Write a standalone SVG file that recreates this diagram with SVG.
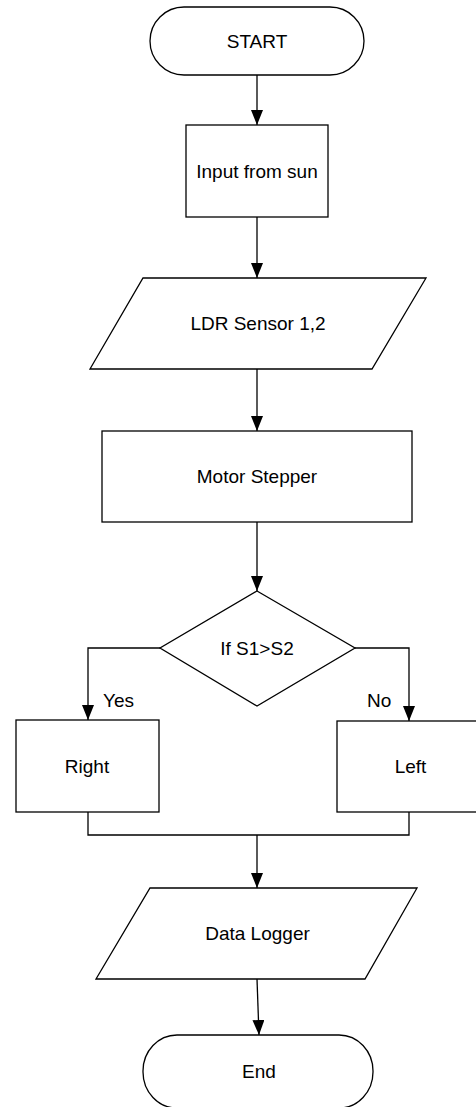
<svg xmlns="http://www.w3.org/2000/svg" width="476" height="1107" viewBox="0 0 476 1107">
<defs>
<marker id="arr" markerUnits="userSpaceOnUse" markerWidth="16" markerHeight="12" refX="15" refY="6" orient="auto">
<path d="M0,0 L15,6 L0,12 z" fill="#000"/>
</marker>
<style>
.s{fill:#fff;stroke:#000;stroke-width:1.3}
.c{fill:none;stroke:#000;stroke-width:1.3}
text{font-family:"Liberation Sans",Arial,sans-serif;font-size:19px;fill:#000}
.m{text-anchor:middle}
</style>
</defs>
<rect width="476" height="1107" fill="#fff"/>
<g id="connectors">
<path class="c" d="M257,75 V125" marker-end="url(#arr)"/>
<path class="c" d="M257,217 V278" marker-end="url(#arr)"/>
<path class="c" d="M257,369 V431" marker-end="url(#arr)"/>
<path class="c" d="M257,522 V591" marker-end="url(#arr)"/>
<path class="c" d="M160,648 H88 V720" marker-end="url(#arr)"/>
<path class="c" d="M355,648 H409 V721" marker-end="url(#arr)"/>
<path class="c" d="M88,812 V835 H409 V812"/>
<path class="c" d="M257,835 V888" marker-end="url(#arr)"/>
<path class="c" d="M257,979 L259,1035" marker-end="url(#arr)"/>
<text x="103" y="707">Yes</text>
<text x="367" y="707">No</text>
</g>
<g id="start">
<rect class="s" x="150" y="7" width="214" height="68" rx="34" ry="34"/>
<text class="m" x="257" y="47.5">START</text>
</g>
<g id="input">
<rect class="s" x="186" y="125" width="142" height="92"/>
<text class="m" x="257" y="178">Input from sun</text>
</g>
<g id="ldr">
<polygon class="s" points="143,278 426,278 372,369 90,369"/>
<text class="m" x="258" y="329.5">LDR Sensor 1,2</text>
</g>
<g id="motor">
<rect class="s" x="102" y="431" width="310" height="91"/>
<text class="m" x="257" y="483">Motor Stepper</text>
</g>
<g id="decision">
<polygon class="s" points="257,591 355,648 257,706 160,648"/>
<text class="m" x="257" y="655">If S1&gt;S2</text>
</g>
<g id="right">
<rect class="s" x="16" y="720" width="143" height="92"/>
<text class="m" x="87" y="773">Right</text>
</g>
<g id="left">
<rect class="s" x="337" y="721" width="145" height="91"/>
<text class="m" x="410.5" y="773">Left</text>
</g>
<g id="logger">
<polygon class="s" points="150,888 417,888 365,979 96,979"/>
<text class="m" x="257.5" y="940">Data Logger</text>
</g>
<g id="end">
<rect class="s" x="143" y="1035" width="230" height="73" rx="34" ry="36"/>
<text class="m" x="259" y="1078">End</text>
</g>
</svg>
